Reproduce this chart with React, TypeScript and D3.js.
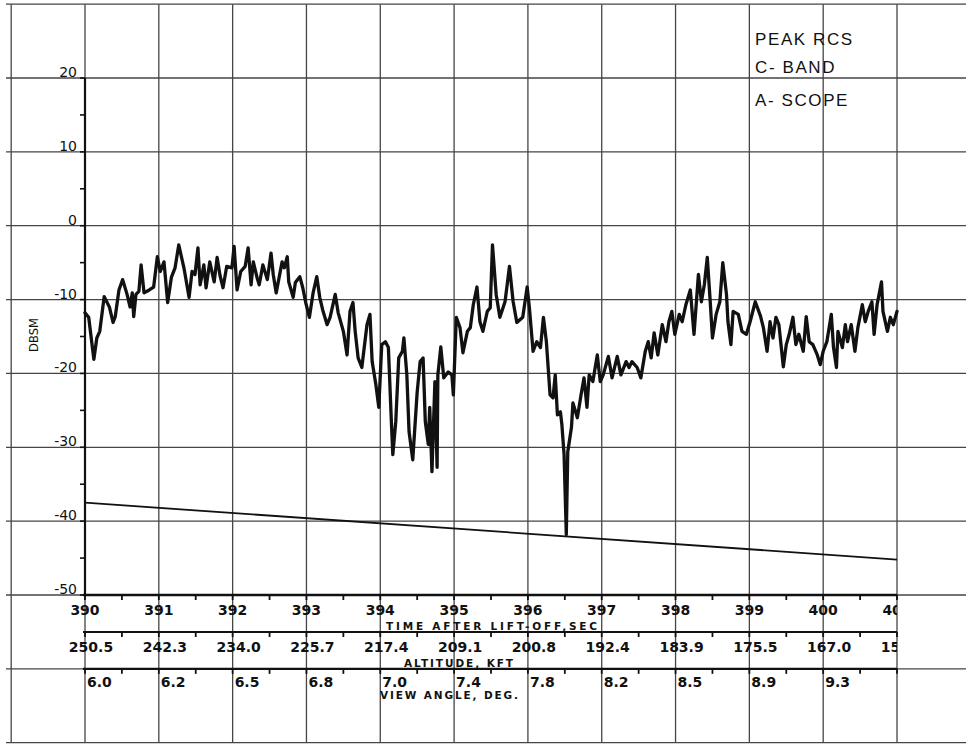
import React from "react";
import * as d3 from "d3";

// ---- data ----
const timeSec = [
  390.00, 390.05, 390.12, 390.16, 390.20, 390.26, 390.33, 390.38, 390.41, 390.46,
  390.51, 390.57, 390.61, 390.64, 390.66, 390.69, 390.73, 390.76, 390.80, 390.87,
  390.93, 390.98, 391.02, 391.07, 391.12, 391.17, 391.22, 391.27, 391.34, 391.38,
  391.41, 391.45, 391.49, 391.53, 391.56, 391.61, 391.64, 391.69, 391.75, 391.79,
  391.83, 391.87, 391.92, 391.99, 392.02, 392.06, 392.11, 392.17, 392.21, 392.25,
  392.28, 392.33, 392.36, 392.41, 392.47, 392.52, 392.55, 392.59, 392.63, 392.67,
  392.70, 392.74, 392.76, 392.82, 392.85, 392.91, 392.95, 392.99, 393.04, 393.09,
  393.14, 393.18, 393.22, 393.28, 393.32, 393.39, 393.43, 393.50, 393.55, 393.59,
  393.63, 393.66, 393.70, 393.75, 393.82, 393.86, 393.89, 393.94, 393.98, 394.02,
  394.07, 394.11, 394.15, 394.17, 394.21, 394.25, 394.30, 394.32, 394.36, 394.39,
  394.44, 394.50, 394.54, 394.58, 394.61, 394.65, 394.67, 394.70, 394.74, 394.77,
  394.78, 394.82, 394.86, 394.92, 394.97, 394.99, 395.03, 395.08, 395.12, 395.18,
  395.22, 395.26, 395.31, 395.35, 395.39, 395.45, 395.49, 395.52, 395.57, 395.62,
  395.69, 395.75, 395.80, 395.85, 395.93, 395.99, 396.02, 396.07, 396.12, 396.17,
  396.21, 396.25, 396.30, 396.34, 396.37, 396.40, 396.44, 396.46, 396.49, 396.52,
  396.54, 396.59, 396.61, 396.67, 396.72, 396.76, 396.80, 396.83, 396.88, 396.94,
  396.98, 397.02, 397.09, 397.14, 397.21, 397.26, 397.33, 397.37, 397.41, 397.48,
  397.53, 397.59, 397.63, 397.67, 397.71, 397.76, 397.82, 397.87, 397.91, 397.95,
  397.99, 398.05, 398.09, 398.14, 398.20, 398.25, 398.31, 398.35, 398.39, 398.43,
  398.47, 398.50, 398.55, 398.60, 398.64, 398.69, 398.71, 398.75, 398.78, 398.85,
  398.90, 398.96, 399.01, 399.08, 399.15, 399.19, 399.24, 399.28, 399.32, 399.36,
  399.40, 399.46, 399.50, 399.54, 399.59, 399.63, 399.67, 399.73, 399.77, 399.81,
  399.86, 399.92, 399.96, 400.00, 400.05, 400.11, 400.14, 400.18, 400.20, 400.26,
  400.30, 400.33, 400.38, 400.43, 400.47, 400.53, 400.57, 400.61, 400.66, 400.69,
  400.73, 400.79, 400.81, 400.87, 400.91, 400.95, 401.00,
];

const rcsDbsm = [
  -11.8, -12.4, -18.1, -15.2, -14.3, -9.6, -11.0, -13.1, -12.3, -8.7,
  -7.3, -9.3, -11.0, -9.1, -12.3, -9.3, -8.9, -5.3, -9.1, -8.7,
  -8.3, -4.2, -6.2, -4.9, -10.4, -7.0, -5.7, -2.6, -5.7, -8.0,
  -9.7, -6.2, -6.6, -3.0, -8.0, -5.3, -8.4, -4.9, -7.6, -4.3,
  -6.8, -8.4, -5.5, -5.7, -2.8, -8.7, -6.2, -5.5, -3.0, -8.0,
  -4.9, -7.0, -8.0, -5.3, -7.3, -3.7, -6.6, -9.1, -7.0, -4.9,
  -5.7, -4.2, -7.6, -9.7, -7.7, -6.9, -8.4, -10.4, -12.4, -9.1,
  -6.9, -9.7, -11.4, -13.4, -12.4, -9.3, -11.8, -14.3, -17.5, -11.6,
  -10.4, -14.3, -17.9, -19.2, -13.4, -12.0, -18.4, -21.5, -24.6, -16.1,
  -15.7, -16.5, -26.5, -31.0, -26.5, -17.9, -17.0, -15.2, -20.2, -27.9,
  -31.7, -22.5, -18.4, -17.9, -26.5, -29.6, -24.6, -33.3, -21.1, -32.7,
  -20.2, -16.4, -20.6, -19.8, -20.2, -22.9, -12.4, -13.8, -17.2, -14.3,
  -13.8, -10.7, -8.3, -13.0, -14.3, -11.6, -11.1, -2.6, -9.3, -12.4,
  -10.3, -5.5, -10.3, -13.1, -12.4, -8.3, -11.1, -17.0, -15.7, -16.5,
  -12.4, -15.7, -22.9, -23.3, -20.2, -25.6, -25.2, -26.9, -31.0, -41.8,
  -30.6, -27.3, -24.0, -26.0, -22.9, -20.6, -24.6, -20.2, -21.1, -17.5,
  -21.1, -20.2, -17.7, -20.6, -17.7, -20.2, -18.4, -19.2, -18.4, -19.2,
  -20.6, -17.0, -15.7, -17.9, -14.5, -17.5, -13.4, -15.7, -13.0, -11.6,
  -14.7, -12.0, -13.0, -10.7, -8.7, -14.7, -6.6, -10.3, -8.0, -4.3,
  -10.3, -15.2, -12.0, -10.3, -5.0, -9.3, -13.0, -16.1, -11.6, -12.0,
  -14.3, -14.7, -13.0, -10.3, -12.2, -13.8, -17.0, -13.0, -15.2, -12.4,
  -13.4, -19.1, -16.1, -14.7, -12.4, -16.1, -14.7, -17.0, -12.3, -15.7,
  -16.1, -17.5, -18.8, -17.0, -15.7, -12.0, -16.5, -19.2, -14.3, -16.5,
  -13.4, -15.7, -13.4, -17.0, -13.8, -10.7, -13.0, -11.6, -10.3, -14.7,
  -10.7, -7.6, -11.6, -14.3, -12.4, -13.4, -11.6,
];

// noise-floor / reference line
const floorTime = [390, 401];
const floorDb = [-37.5, -45.2];

const dbTicks = [20, 10, 0, -10, -20, -30, -40, -50];
const timeTicks = [390, 391, 392, 393, 394, 395, 396, 397, 398, 399, 400, 401];
const altitudeLabels = ["250.5", "242.3", "234.0", "225.7", "217.4", "209.1", "200.8", "192.4", "183.9", "175.5", "167.0", "158.6"];
const viewAngleLabels = ["6.0", "6.2", "6.5", "6.8", "7.0", "7.4", "7.8", "8.2", "8.5", "8.9", "9.3"];
const titleLines = ["PEAK RCS", "C- BAND", "A- SCOPE"];

// ---- layout ----
const W = 966;
const H = 748;
const x = d3.scaleLinear().domain([390, 401]).range([85, 897]);
const y = d3.scaleLinear().domain([20, -50]).range([78, 595]);

const gridTimes = d3.range(389, 403, 1);
const gridDbs = d3.range(30, -71, -10);
const minorDb = d3.range(20, -51, -5);
const halfTimes = d3.range(390, 401.01, 0.5);

const yAxisBand = y(-50);
const altBand = 632;
const viewBand = y(-60);

const lettering = "'DejaVu Sans', Verdana, sans-serif";
const titleFont = "'Liberation Sans', Arial, Helvetica, sans-serif";

export default function App() {
  const pts: [number, number][] = timeSec.map((t, i) => [t, rcsDbsm[i]]);
  const line = d3
    .line<[number, number]>()
    .x((d) => x(d[0]))
    .y((d) => y(d[1]));
  const floorPts: [number, number][] = floorTime.map((t, i) => [t, floorDb[i]]);

  const gridColor = "#454545";
  const ink = "#111";

  return (
    <svg
      width={W}
      height={H}
      viewBox={`0 0 ${W} ${H}`}
      style={{ position: "absolute", left: 0, top: 0, background: "#fff" }}
    >
      <defs>
        <clipPath id="plotclip">
          <rect x={0} y={0} width={x(401)} height={H} />
        </clipPath>
      </defs>
      <rect x={0} y={0} width={W} height={H} fill="#fff" />

      {/* grid paper */}
      <g stroke={gridColor} strokeWidth={1.3}>
        {gridDbs.map((d) => (
          <line key={"h" + d} x1={6} x2={W} y1={y(d)} y2={y(d)} />
        ))}
        {gridTimes.map((t) => (
          <line key={"v" + t} x1={x(t)} x2={x(t)} y1={y(30)} y2={y(-70)} />
        ))}
      </g>

      {/* y axis */}
      <g stroke={ink}>
        <line x1={x(390)} x2={x(390)} y1={y(20)} y2={y(-50)} strokeWidth={2.2} />
        {minorDb.map((d) => (
          <line key={"yt" + d} x1={x(390) - 5} x2={x(390)} y1={y(d)} y2={y(d)} strokeWidth={1.6} />
        ))}
      </g>
      <g fontFamily={lettering} fontSize={14} fill={ink} textAnchor="end">
        {dbTicks.map((d) => (
          <text key={"yl" + d} x={x(390) - 8} y={y(d) - 1}>
            {d}
          </text>
        ))}
      </g>
      <text
        x={0}
        y={0}
        transform={`translate(38, 335) rotate(-90)`}
        textAnchor="middle"
        fontFamily={lettering}
        fontSize={11.5}
        fill={ink}
      >
        DBSM
      </text>

      {/* x axis bands */}
      <g stroke={ink}>
        {[yAxisBand, altBand, viewBand].map((yy, i) => (
          <line key={"band" + i} x1={x(390) - 2} x2={x(401)} y1={yy} y2={yy} strokeWidth={i === 0 ? 2.6 : 2.2} />
        ))}
        {[yAxisBand, altBand, viewBand].map((yy, i) =>
          halfTimes.map((t) => (
            <line key={"bt" + i + "-" + t} x1={x(t)} x2={x(t)} y1={yy} y2={yy + 5} strokeWidth={1.8} />
          ))
        )}
      </g>

      <g clipPath="url(#plotclip)" fontFamily={lettering} fontWeight="bold" fontSize={14} fill={ink}>
        {timeTicks.map((t) => (
          <text key={"tl" + t} x={x(t)} y={615} textAnchor="middle">
            {t}
          </text>
        ))}
        {altitudeLabels.map((s, i) => (
          <text key={"al" + s} x={x(390 + i) + 6} y={652} textAnchor="middle">
            {s}
          </text>
        ))}
        {viewAngleLabels.map((s, i) => (
          <text key={"vl" + s} x={x(390 + i) + 2} y={687} textAnchor="start">
            {s}
          </text>
        ))}
      </g>

      <g fontFamily={lettering} fontWeight="bold" fontSize={10.5} fill={ink}>
        <text x={386} y={630} textLength={211} lengthAdjust="spacing">
          TIME AFTER LIFT-OFF,SEC
        </text>
        <text x={404} y={667} textLength={109} lengthAdjust="spacing">
          ALTITUDE, KFT
        </text>
        <text x={380} y={699} textLength={138} lengthAdjust="spacing">
          VIEW ANGLE, DEG.
        </text>
      </g>

      {/* noise floor line */}
      <path d={line(floorPts) || ""} fill="none" stroke={ink} strokeWidth={1.8} />

      {/* RCS trace */}
      <path
        d={line(pts) || ""}
        fill="none"
        stroke={ink}
        strokeWidth={3.3}
        strokeLinejoin="round"
        strokeLinecap="round"
      />

      {/* title block */}
      <g fontFamily={titleFont} fontSize={17} fill={ink} letterSpacing={1.6}>
        {titleLines.map((s, i) => (
          <text key={s} x={755} y={[45, 73, 106][i]}>
            {s}
          </text>
        ))}
      </g>
    </svg>
  );
}
